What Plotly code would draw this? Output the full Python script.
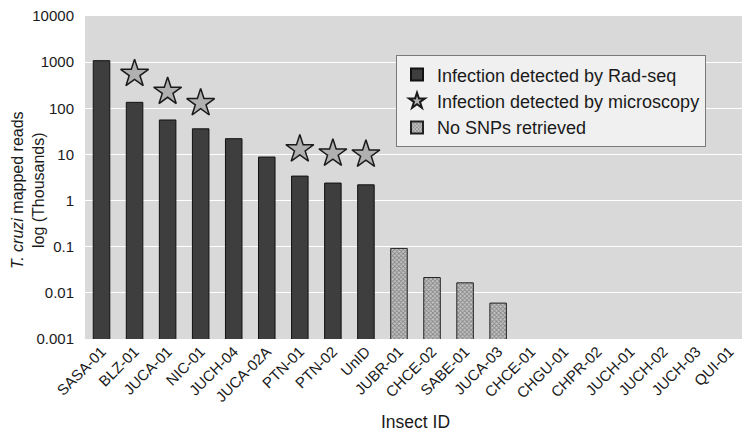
import plotly.graph_objects as go

categories = ["SASA-01", "BLZ-01", "JUCA-01", "NIC-01", "JUCH-04", "JUCA-02A", "PTN-01",
              "PTN-02", "UnID", "JUBR-01", "CHCE-02", "SABE-01", "JUCA-03", "CHCE-01",
              "CHGU-01", "CHPR-02", "JUCH-01", "JUCH-02", "JUCH-03", "QUI-01"]

radseq_ids = ["SASA-01", "BLZ-01", "JUCA-01", "NIC-01", "JUCH-04", "JUCA-02A", "PTN-01", "PTN-02", "UnID"]
radseq_vals = [1080, 135, 56, 36, 22, 8.8, 3.4, 2.4, 2.2]

nosnp_ids = ["JUBR-01", "CHCE-02", "SABE-01", "JUCA-03"]
nosnp_vals = [0.092, 0.0215, 0.0165, 0.006]

micro_ids = ["BLZ-01", "JUCA-01", "NIC-01", "PTN-01", "PTN-02", "UnID"]
micro_vals = [560, 230, 130, 13, 10.5, 10]

tick_vals = [0.001, 0.01, 0.1, 1, 10, 100, 1000, 10000]
tick_text = ["0.001", "0.01", "0.1", "1", "10", "100", "1000", "10000"]

y_title = "<i>T. cruzi</i> mapped reads<br>log (Thousands)"

FONT = "Liberation Sans, Arial, sans-serif"

fig = go.Figure()
fig.add_trace(go.Bar(
    x=radseq_ids, y=radseq_vals, name="Infection detected by Rad-seq",
    marker=dict(color="#3e3e3e", line=dict(color="#111111", width=1)),
))
fig.add_trace(go.Scatter(
    x=micro_ids, y=micro_vals, mode="markers", name="Infection detected by microscopy",
    marker=dict(symbol="star", size=21, color="#b0b0b0", line=dict(color="#1a1a1a", width=1.5)),
))
fig.add_trace(go.Bar(
    x=nosnp_ids, y=nosnp_vals, name="No SNPs retrieved",
    marker=dict(color="#a0a0a0", line=dict(color="#222222", width=1),
                pattern=dict(shape="x", size=3, solidity=0.5, fgcolor="#4a4a4a", bgcolor="#c4c4c4")),
))

fig.add_annotation(
    text=y_title, textangle=-90, xref="paper", yref="paper", x=0, y=0.461,
    xshift=-57, xanchor="center", yanchor="middle", showarrow=False,
    font=dict(size=16, family=FONT, color="#1a1a1a"),
)

fig.update_layout(
    width=742, height=425,
    margin=dict(l=77, r=4, t=8, b=94),
    paper_bgcolor="white", plot_bgcolor="#d9d9d9",
    font=dict(family=FONT, size=15, color="#1a1a1a"),
    bargap=0.5, barmode="overlay",
    showlegend=True,
    legend=dict(x=0.4705, y=0.878, xanchor="left", yanchor="top",
                bgcolor="#f0f0f0", bordercolor="#7a7a7a", borderwidth=1,
                font=dict(size=18, family=FONT, color="#1a1a1a"), tracegroupgap=0, itemsizing="constant"),
    xaxis=dict(type="category", categoryorder="array", categoryarray=categories,
               range=[-0.5, 19.5], tickangle=-45, showgrid=False, ticks="",
               tickfont=dict(size=15), automargin=False,
               title=dict(text="Insect ID", font=dict(size=17.5), standoff=11)),
    yaxis=dict(type="log", range=[-3, 4.002], tickvals=tick_vals, ticktext=tick_text,
               showgrid=True, gridcolor="white", gridwidth=1, zeroline=False, ticks="",
               tickfont=dict(size=15), ticklabelstandoff=10, automargin=False,
               ticklabeloverflow="allow"),
)

fig.write_html("out.html")
